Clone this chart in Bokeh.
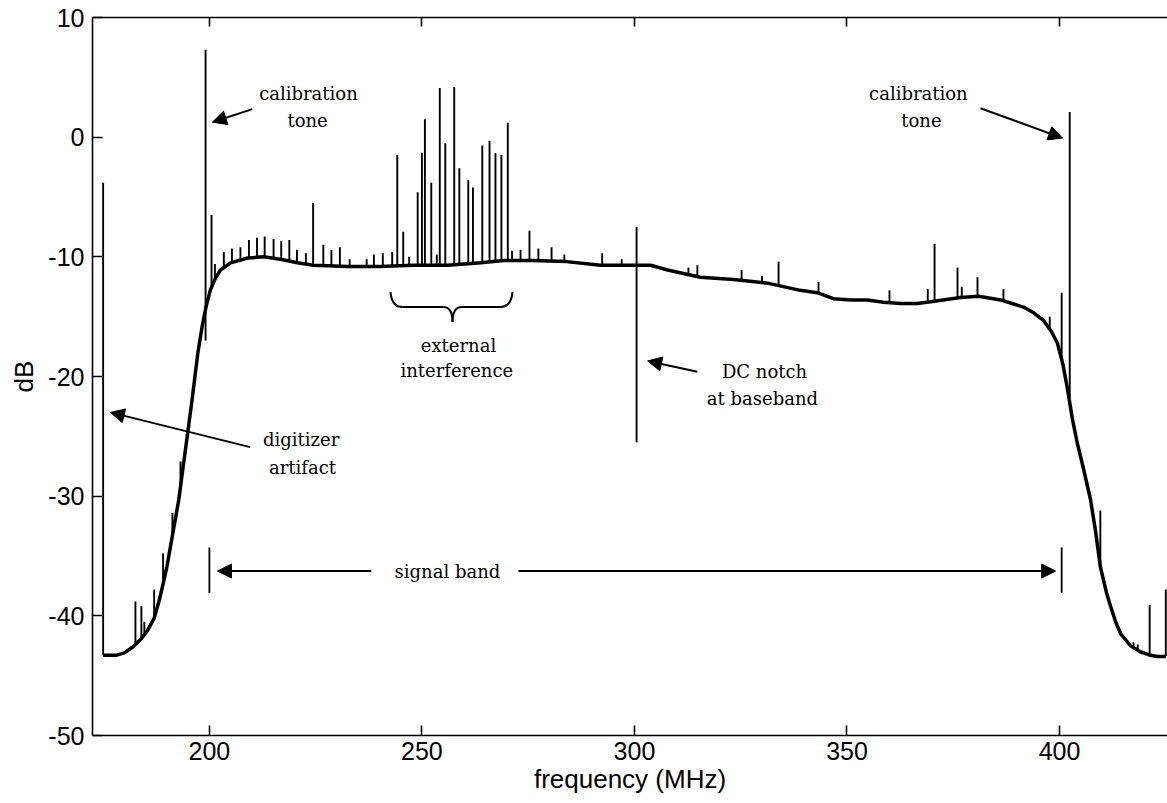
import numpy as np
from bokeh.plotting import figure
from bokeh.models import Range1d, LinearAxis, FixedTicker, Arrow, NormalHead, CustomJSTickFormatter
from bokeh.embed import file_html
from bokeh.resources import INLINE
from bokeh.core.properties import value

# ---- spectrum baseline (MHz, dB) ----
curve_freq = [175, 178, 180, 182, 184, 185.5, 187, 188.2, 189, 190, 191.4, 192.8, 193.8,
              194.9, 195.9, 197.3, 198.3, 199.2, 200.2, 201.4, 202.6, 205, 209, 212.7,
              216.7, 220.7, 224.5, 232.5, 240, 248, 256, 263.8, 269.2, 276, 284, 292,
              300, 303.8, 307.8, 315.5, 323.3, 331.3, 339, 343, 346.8, 350.8, 354.8,
              358.6, 362.6, 366.6, 371, 376.7, 381, 386.1, 391.5, 394, 396.2, 398,
              399.5, 400.8, 401.9, 403, 404.2, 405.5, 407.3, 408.5, 409.6, 411, 412,
              413.2, 414.4, 416.7, 419, 421.4, 423, 425]
curve_db = [-43.3, -43.3, -43.1, -42.6, -41.9, -41.2, -40.2, -38.7, -37.5, -35.9, -33.1,
            -30.3, -27.6, -24.7, -22.0, -18.0, -15.8, -14.2, -12.8, -11.8, -11.1, -10.5,
            -10.1, -10.0, -10.2, -10.5, -10.7, -10.8, -10.8, -10.7, -10.7, -10.5, -10.3,
            -10.3, -10.4, -10.7, -10.7, -10.7, -11.1, -11.7, -11.9, -12.2, -12.8, -13.0,
            -13.5, -13.6, -13.6, -13.8, -13.9, -13.9, -13.7, -13.4, -13.3, -13.6, -14.2,
            -14.7, -15.3, -16.2, -17.2, -19.0, -21.1, -23.5, -25.6, -27.5, -30.3, -33.0,
            -35.9, -38.0, -39.2, -40.5, -41.5, -42.5, -43.0, -43.3, -43.4, -43.4]

# ---- narrow-band spikes: frequency, peak level, foot level ----
spike_freq = [175.0, 182.6, 184.0, 184.7, 187.0, 189.1, 191.3, 193.2, 199.1, 200.5, 201.3,
              203.4, 205.3, 207.3, 209.3, 211.2, 213.0, 215.1, 216.9, 218.8, 220.6, 222.7,
              224.4, 226.8, 228.7, 230.7, 233.0, 237.0, 238.7, 240.8, 243.0,
              244.2, 245.6, 247.0, 249.0, 250.0, 250.7, 252.2, 253.5, 254.2, 255.5, 257.6,
              258.8, 260.9, 262.0, 264.2, 265.9, 267.3, 268.7, 270.2, 271.2, 273.2, 275.3,
              277.4, 280.5, 283.5, 292.4, 297.0, 300.5, 312.7, 314.8, 325.2, 330.0, 333.9,
              343.3, 360.0, 369.0, 370.6, 376.0, 377.0, 380.7, 386.8, 397.7, 400.5, 402.4,
              409.6, 417.4, 418.4, 421.2, 425.0]
spike_top = [-3.8, -38.8, -39.2, -40.5, -37.8, -34.8, -31.4, -27.1, 7.3, -6.5, -10.6,
             -9.6, -9.3, -9.2, -8.6, -8.4, -8.3, -8.5, -8.7, -8.6, -9.4, -9.7,
             -5.5, -9.0, -9.4, -9.2, -10.2, -10.2, -9.8, -9.7, -9.6,
             -1.5, -7.9, -10.0, -4.6, -1.3, 1.5, -3.8, -9.8, 4.1, -0.5, 4.2,
             -2.6, -3.6, -4.2, -0.7, -0.3, -1.35, -1.5, 1.2, -9.5, -9.4, -7.8,
             -9.3, -9.2, -9.8, -9.7, -10.2, -7.5, -10.9, -10.7, -11.1, -11.6, -10.4,
             -12.1, -12.8, -12.7, -8.9, -10.9, -12.5, -11.7, -12.7, -15.0, -13.0, 2.1,
             -31.2, -42.2, -42.4, -39.1, -37.8]
spike_base = [-43.3, -42.4, -41.9, -41.6, -40.2, -37.3, -33.3, -29.2, -17.0, -12.6, -12.0,
              -10.9, -10.5, -10.3, -10.1, -10.0, -10.0, -10.1, -10.2, -10.35, -10.5, -10.6,
              -10.7, -10.7, -10.75, -10.8, -10.8, -10.8, -10.8, -10.8, -10.8,
              -10.8, -10.8, -10.8, -10.7, -10.7, -10.7, -10.7, -10.7, -10.7, -10.7, -10.7,
              -10.7, -10.6, -10.6, -10.5, -10.5, -10.4, -10.3, -10.3, -10.3, -10.3, -10.3,
              -10.3, -10.35, -10.4, -10.7, -10.7, -25.5, -11.5, -11.65, -12.0, -12.2, -12.4,
              -13.1, -13.8, -13.8, -13.75, -13.4, -13.4, -13.3, -13.7, -16.0, -18.6, -21.8,
              -35.9, -42.7, -42.9, -43.3, -43.4]

x_ticks = [200, 250, 300, 350, 400]
y_ticks = [-50, -40, -30, -20, -10, 0, 10]

# ---- annotations ----
note_text = ["calibration", "tone", "calibration", "tone", "external", "interference",
             "DC notch", "at baseband", "digitizer", "artifact", "signal band"]
note_x = [223.3, 223.1, 366.8, 367.5, 258.6, 258.2, 330.6, 330.1, 221.6, 221.9, 256.0]
note_y = [3.68, 1.42, 3.68, 1.42, -17.4, -19.5, -19.6, -21.8, -25.3, -27.6, -36.26]

arrow_x0 = [210.1, 381.4, 314.8, 209.6, 238.1, 272.7]
arrow_y0 = [2.34, 2.42, -19.6, -25.9, -36.26, -36.26]
arrow_x1 = [200.7, 400.7, 303.1, 176.7, 201.9, 399.1]
arrow_y1 = [1.25, -0.08, -18.7, -23.0, -36.26, -36.26]

band_edges = [200.0, 400.5]
band_lo, band_hi = -38.1, -34.3

FONT_AX = "Liberation Sans"
FONT_NOTE = "DejaVu Serif"

p = figure(width=1167, height=803, output_backend="svg", toolbar_location=None,
           x_range=Range1d(172.5, 425.4), y_range=Range1d(-50, 10),
           min_border_left=92, min_border_right=0, min_border_top=17,
           min_border_bottom=68)
p.outline_line_color = None
p.grid.visible = False
p.background_fill_color = "white"
p.border_fill_color = "white"

plain = CustomJSTickFormatter(code="return String(tick);")

for ax in (p.xaxis[0], p.yaxis[0]):
    ax.major_tick_in = 10
    ax.major_tick_out = 0
    ax.minor_tick_line_color = None
    ax.axis_line_width = 1.6
    ax.major_tick_line_width = 1.6
    ax.major_label_text_font = FONT_AX
    ax.major_label_text_font_size = "25px"
    ax.major_label_text_color = "black"
    ax.axis_label_text_font = FONT_AX
    ax.axis_label_text_font_size = "26px"
    ax.axis_label_text_font_style = "normal"
    ax.axis_label_text_color = "black"
    ax.formatter = plain

p.xaxis[0].ticker = FixedTicker(ticks=x_ticks)
p.yaxis[0].ticker = FixedTicker(ticks=y_ticks)
p.xaxis[0].axis_label = "frequency (MHz)"
p.yaxis[0].axis_label = "dB"
p.xaxis[0].major_label_standoff = 6
p.xaxis[0].axis_label_standoff = 1
p.yaxis[0].major_label_standoff = 8
p.yaxis[0].axis_label_standoff = 6

top = LinearAxis(ticker=FixedTicker(ticks=x_ticks), major_tick_in=9, major_tick_out=0,
                 minor_tick_line_color=None, major_label_text_font_size="1px",
                 major_label_text_color=None,
                 axis_line_width=1.6, major_tick_line_width=1.6, major_label_standoff=0)
p.add_layout(top, "above")

# spectrum
p.line(curve_freq, curve_db, line_width=3.5, color="black", line_join="round")
p.segment(x0=spike_freq, y0=spike_base, x1=spike_freq, y1=spike_top,
          line_width=1.9, color="black")

# signal band edge bars
p.segment(x0=band_edges, y0=[band_lo] * 2, x1=band_edges, y1=[band_hi] * 2,
          line_width=1.8, color="black")

# brace under the interference cluster
bl, bm, br = 242.6, 257.2, 271.3
by_end, by_bar, by_tip = -12.95, -14.2, -15.45
p.quadratic(x0=[bl, bm, bm, br], y0=[by_end, by_tip, by_tip, by_end],
            x1=[bl + 2.9, bm - 2.2, bm + 2.2, br - 2.9], y1=[by_bar] * 4,
            cx=[bl + 0.3, bm, bm, br - 0.3], cy=[by_bar, by_bar, by_bar, by_bar],
            line_width=2, line_color="black")
p.segment(x0=[bl + 2.9, bm + 2.2], y0=[by_bar] * 2, x1=[bm - 2.2, br - 2.9],
          y1=[by_bar] * 2, line_width=2, color="black")

# arrows
for xs, ys, xe, ye in zip(arrow_x0, arrow_y0, arrow_x1, arrow_y1):
    p.add_layout(Arrow(end=NormalHead(size=14, fill_color="black", line_color="black",
                                      line_width=1),
                       x_start=xs, y_start=ys, x_end=xe, y_end=ye,
                       line_width=2, line_color="black"))

p.text(x=note_x, y=note_y, text=note_text, text_font=value(FONT_NOTE),
       text_font_size=value("18px"), text_align="center", text_baseline="middle",
       text_color="black")

open("out.html", "w").write(file_html(p, INLINE))
